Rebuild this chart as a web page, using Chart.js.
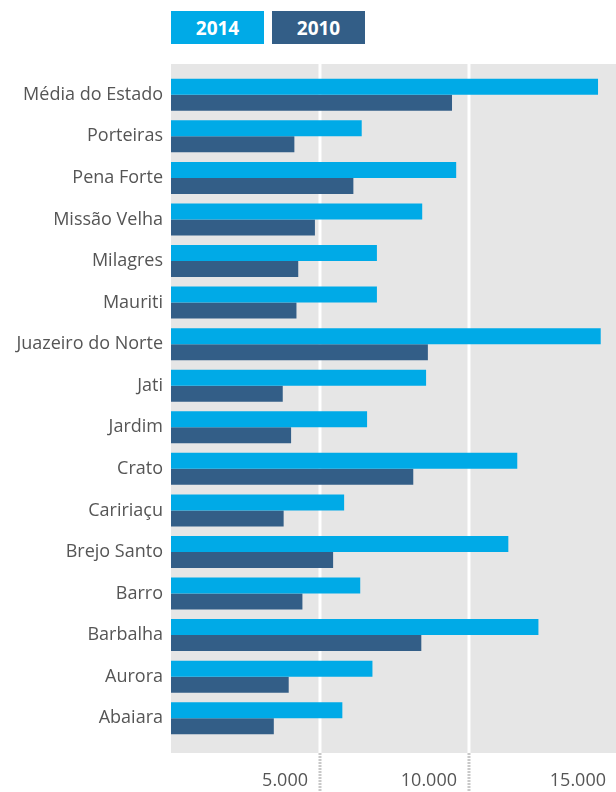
<!DOCTYPE html>
<html>
<head>
<meta charset="utf-8">
<script src="https://cdn.jsdelivr.net/npm/chart.js@4/dist/chart.umd.min.js"></script>
<style>
  html, body { margin: 0; padding: 0; background: #fff; }
  #wrap { position: relative; width: 616px; height: 792px; }
  canvas { position: absolute; left: 0; top: 0; }
  .key {
    position: absolute; top: 11px; height: 33px; width: 93px;
    color: #fff; font: bold 19px "Open Sans", sans-serif;
    display: flex; align-items: center; justify-content: center;
  }
</style>
</head>
<body>
<div id="wrap">
  <canvas id="c" width="616" height="792"></canvas>
  <div class="key" id="k1" style="left:171px;"></div>
  <div class="key" id="k2" style="left:272px;"></div>
</div>
<script>
const categories = [
  'Média do Estado', 'Porteiras', 'Pena Forte', 'Missão Velha', 'Milagres',
  'Mauriti', 'Juazeiro do Norte', 'Jati', 'Jardim', 'Crato', 'Caririaçu',
  'Brejo Santo', 'Barro', 'Barbalha', 'Aurora', 'Abaiara'
];
const values2014 = [14330, 6400, 9570, 8430, 6910, 6910, 14420, 8560, 6580, 11620, 5810, 11320, 6350, 12330, 6760, 5750];
const values2010 = [9430, 4140, 6120, 4830, 4270, 4210, 8620, 3750, 4030, 8130, 3780, 5440, 4410, 8400, 3950, 3450];
const seriesNames = ['2014', '2010'];
const tickValues = [5000, 10000, 15000];
const tickLabels = ['5.000', '10.000', '15.000'];

const COLOR_2014 = '#00aae7';
const COLOR_2010 = '#335e87';
const LABEL_COLOR = '#555555';
const FONT = '"Open Sans", sans-serif';

document.getElementById('k1').textContent = seriesNames[0];
document.getElementById('k1').style.background = COLOR_2014;
document.getElementById('k2').textContent = seriesNames[1];
document.getElementById('k2').style.background = COLOR_2010;

// Grey panel, white grid lines, dotted tick marks and value labels under the panel
const panelPlugin = {
  id: 'panel',
  beforeDraw(chart) {
    const { ctx, chartArea: a, scales: { x } } = chart;
    const top = a.top - 10, bottom = a.bottom + 14;
    ctx.save();
    ctx.fillStyle = '#e6e6e6';
    ctx.fillRect(a.left, top, chart.width - a.left, bottom - top);
    tickValues.forEach((v, i) => {
      const px = x.getPixelForValue(v);
      ctx.strokeStyle = '#ffffff';
      ctx.lineWidth = 3;
      ctx.setLineDash([]);
      ctx.beginPath();
      ctx.moveTo(px, top);
      ctx.lineTo(px, bottom);
      ctx.stroke();
      ctx.strokeStyle = '#c8c8c8';
      ctx.setLineDash([2, 1]);
      ctx.beginPath();
      ctx.moveTo(px, bottom);
      ctx.lineTo(px, chart.height);
      ctx.stroke();
      ctx.setLineDash([]);
      ctx.fillStyle = LABEL_COLOR;
      ctx.font = '18px ' + FONT;
      ctx.textAlign = 'right';
      ctx.textBaseline = 'alphabetic';
      ctx.fillText(tickLabels[i], px - 12, 786);
    });
    ctx.restore();
  }
};

new Chart(document.getElementById('c'), {
  type: 'bar',
  data: {
    labels: categories,
    datasets: [
      { label: seriesNames[0], data: values2014, backgroundColor: COLOR_2014 },
      { label: seriesNames[1], data: values2010, backgroundColor: COLOR_2010 }
    ]
  },
  options: {
    indexAxis: 'y',
    responsive: false,
    animation: false,
    events: [],
    layout: { padding: { top: 74, bottom: 53, left: 0, right: 0 } },
    datasets: { bar: { categoryPercentage: 0.7705, barPercentage: 1, borderWidth: 0 } },
    plugins: { legend: { display: false }, tooltip: { enabled: false } },
    scales: {
      x: { type: 'linear', min: 0, max: 14933, display: false },
      y: {
        grid: { display: false, drawTicks: false },
        border: { display: false },
        ticks: { color: LABEL_COLOR, font: { family: FONT, size: 18 }, padding: 8 },
        afterFit(s) { s.width = 171; }
      }
    }
  },
  plugins: [panelPlugin]
});
</script>
</body>
</html>
